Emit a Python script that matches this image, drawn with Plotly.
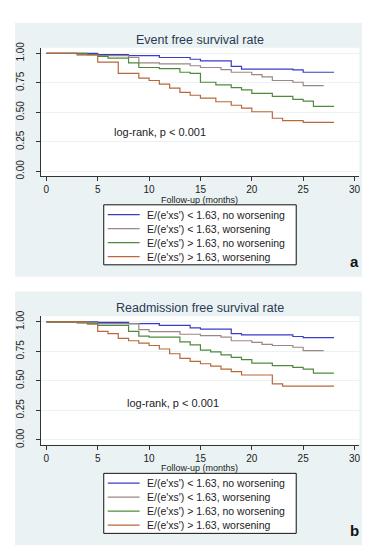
import plotly.graph_objects as go

W, H = 370, 550

series_names = [
    "E/(e'xs') < 1.63, no worsening",
    "E/(e'xs') < 1.63, worsening",
    "E/(e'xs') > 1.63, no worsening",
    "E/(e'xs') > 1.63, worsening",
]
series_colors = ["#3b3bc6", "#9a8883", "#4f8a3c", "#b8683c"]

panel_titles = ["Event free survival rate", "Readmission free survival rate"]
panel_letters = ["a", "b"]
logrank_text = "log-rank, p < 0.001"
x_title = "Follow-up (months)"
x_ticks = [0, 5, 10, 15, 20, 25, 30]
y_ticks = [0, 0.25, 0.5, 0.75, 1.0]
y_ticklabels = ["0.00", "0.25", "0.50", "0.75", "1.00"]

# Panel a: event free survival
a_blue_t = [0, 5, 8, 11, 14, 15, 18, 19, 24, 25, 28]
a_blue_s = [1.0, 0.99, 0.98, 0.965, 0.95, 0.937, 0.89, 0.867, 0.86, 0.84, 0.84]
a_gray_t = [0, 3, 5, 8, 9, 11, 14, 15, 17, 18, 20, 21, 22, 24, 25, 27]
a_gray_s = [1.0, 0.99, 0.98, 0.965, 0.92, 0.91, 0.895, 0.88, 0.862, 0.84, 0.82, 0.80, 0.77, 0.755, 0.727, 0.727]
a_green_t = [0, 4, 5, 6, 8, 9, 11, 13, 14, 15, 16.5, 18, 19, 20, 22, 24, 25, 26, 28]
a_green_s = [1.0, 0.99, 0.975, 0.96, 0.92, 0.88, 0.87, 0.84, 0.83, 0.755, 0.733, 0.71, 0.69, 0.66, 0.635, 0.61, 0.595, 0.55, 0.55]
a_orange_t = [0, 3, 5, 7, 9, 10, 11, 12, 13, 14, 15, 16.5, 18, 19, 20, 22, 23, 25, 28]
a_orange_s = [1.0, 0.986, 0.925, 0.83, 0.79, 0.77, 0.74, 0.705, 0.67, 0.645, 0.62, 0.59, 0.56, 0.535, 0.505, 0.45, 0.43, 0.415, 0.415]

# Panel b: readmission free survival
b_blue_t = [0, 5, 8, 11, 14, 15, 18, 19, 24, 25, 28]
b_blue_s = [1.0, 0.995, 0.985, 0.97, 0.95, 0.938, 0.90, 0.89, 0.876, 0.866, 0.866]
b_gray_t = [0, 3, 5, 9, 10, 13, 15, 17, 18, 20, 21, 22, 24, 25, 27]
b_gray_s = [1.0, 0.99, 0.985, 0.935, 0.917, 0.895, 0.883, 0.87, 0.84, 0.826, 0.81, 0.80, 0.785, 0.757, 0.757]
b_green_t = [0, 4, 5, 8, 9, 10, 13, 14, 15, 16, 17, 18, 19, 20, 22, 24, 25, 26, 28]
b_green_s = [1.0, 0.99, 0.97, 0.92, 0.88, 0.87, 0.83, 0.805, 0.76, 0.745, 0.72, 0.70, 0.68, 0.65, 0.63, 0.615, 0.60, 0.565, 0.565]
b_orange_t = [0, 4, 5, 6, 7, 8, 9, 10, 11, 12, 13, 14, 15, 16, 17, 18, 19, 22, 23, 28]
b_orange_s = [1.0, 0.98, 0.92, 0.90, 0.86, 0.84, 0.82, 0.80, 0.77, 0.73, 0.69, 0.665, 0.645, 0.625, 0.60, 0.578, 0.55, 0.475, 0.455, 0.455]

panels = [
    [(a_blue_t, a_blue_s), (a_gray_t, a_gray_s), (a_green_t, a_green_s), (a_orange_t, a_orange_s)],
    [(b_blue_t, b_blue_s), (b_gray_t, b_gray_s), (b_green_t, b_green_s), (b_orange_t, b_orange_s)],
]
logrank_pos = [(11.1, 0.333), (12.3, 0.31)]

FONT = "Liberation Sans, Arial, sans-serif"
BG = "rgb(234,242,243)"
TXT = "#222222"


def px(x):
    return x / W


def py(y):
    return 1 - y / H


fig = go.Figure()
shapes = []
annotations = []
OFF = [0, 273]

for i, (series, off) in enumerate(zip(panels, OFF)):
    xa = "x" if i == 0 else "x2"
    ya = "y" if i == 0 else "y2"
    for (t, s), name, col in zip(series, series_names, series_colors):
        fig.add_trace(go.Scatter(
            x=t, y=s, mode="lines", line=dict(color=col, width=1.2, shape="hv"),
            name=name, showlegend=False, xaxis=xa, yaxis=ya, hoverinfo="skip"))

    # panel background
    shapes.append(dict(type="rect", xref="paper", yref="paper",
                       x0=px(7), x1=px(362), y0=py(267 + off), y1=py(9 + off),
                       fillcolor=BG, line=dict(width=0), layer="below"))
    shapes.append(dict(type="rect", xref=xa + " domain", yref=ya + " domain",
                       x0=0, x1=1, y0=0, y1=1,
                       fillcolor="white", line=dict(width=0), layer="below"))

    # axes
    axkw = dict(showline=True, linecolor="#333333", linewidth=1, ticks="outside",
                ticklen=4, tickcolor="#333333", mirror=False, zeroline=False,
                tickfont=dict(family=FONT, size=10, color=TXT))
    dom_y = [py(165 + off), py(34.3 + off)]
    fig.update_layout(**{
        ("xaxis" if i == 0 else "xaxis2"): dict(
            domain=[px(32.7), px(352.3)], range=[-0.56, 30.47], anchor=ya,
            tickvals=x_ticks, showgrid=False, ticklabelstandoff=0, **axkw),
        ("yaxis" if i == 0 else "yaxis2"): dict(
            domain=dom_y, range=[-0.042, 1.0475], anchor=xa,
            tickvals=y_ticks, ticktext=y_ticklabels, tickangle=-90,
            showgrid=True, gridcolor=BG, gridwidth=1, ticklabelstandoff=8, **axkw),
    })

    # title
    annotations.append(dict(text=panel_titles[i], xref="paper", yref="paper",
                            x=px(192.5), y=py(26 + off), xanchor="center", yanchor="middle",
                            showarrow=False, font=dict(family=FONT, size=12.5, color="#2b3a52")))
    # x title
    annotations.append(dict(text=x_title, xref="paper", yref="paper",
                            x=px(192.5), y=py(189 + off), xanchor="center", yanchor="middle",
                            showarrow=False, borderpad=0,
                            font=dict(family=FONT, size=9, color=TXT)))
    # log-rank
    lx, ly = logrank_pos[i]
    annotations.append(dict(text=logrank_text, xref=xa, yref=ya, x=lx, y=ly,
                            xanchor="center", yanchor="middle", showarrow=False,
                            font=dict(family=FONT, size=11, color=TXT)))
    # panel letter
    annotations.append(dict(text="<b>%s</b>" % panel_letters[i], xref="paper", yref="paper",
                            x=px(347), y=py(252 + off), xanchor="center", yanchor="middle",
                            showarrow=False, font=dict(family=FONT, size=15, color="#111111")))

    # legend box
    shapes.append(dict(type="rect", xref="paper", yref="paper",
                       x0=px(96), x1=px(289), y0=py(255 + off), y1=py(194 + off),
                       fillcolor="white", line=dict(color="#111111", width=1), layer="above"))
    for k, (name, col) in enumerate(zip(series_names, series_colors)):
        ry = 204 + 14.2 * k + off
        shapes.append(dict(type="line", xref="paper", yref="paper",
                           x0=px(100), x1=px(132), y0=py(ry), y1=py(ry),
                           line=dict(color=col, width=1.2), layer="above"))
        annotations.append(dict(text=name, xref="paper", yref="paper",
                                x=px(137), y=py(ry), xanchor="left", yanchor="middle",
                                showarrow=False, font=dict(family=FONT, size=10.5, color=TXT)))

fig.update_layout(
    width=W, height=H, margin=dict(l=0, r=0, t=0, b=0),
    paper_bgcolor="white", plot_bgcolor="white",
    shapes=shapes, annotations=annotations, showlegend=False,
    font=dict(family=FONT),
)

fig.write_html("out.html")
